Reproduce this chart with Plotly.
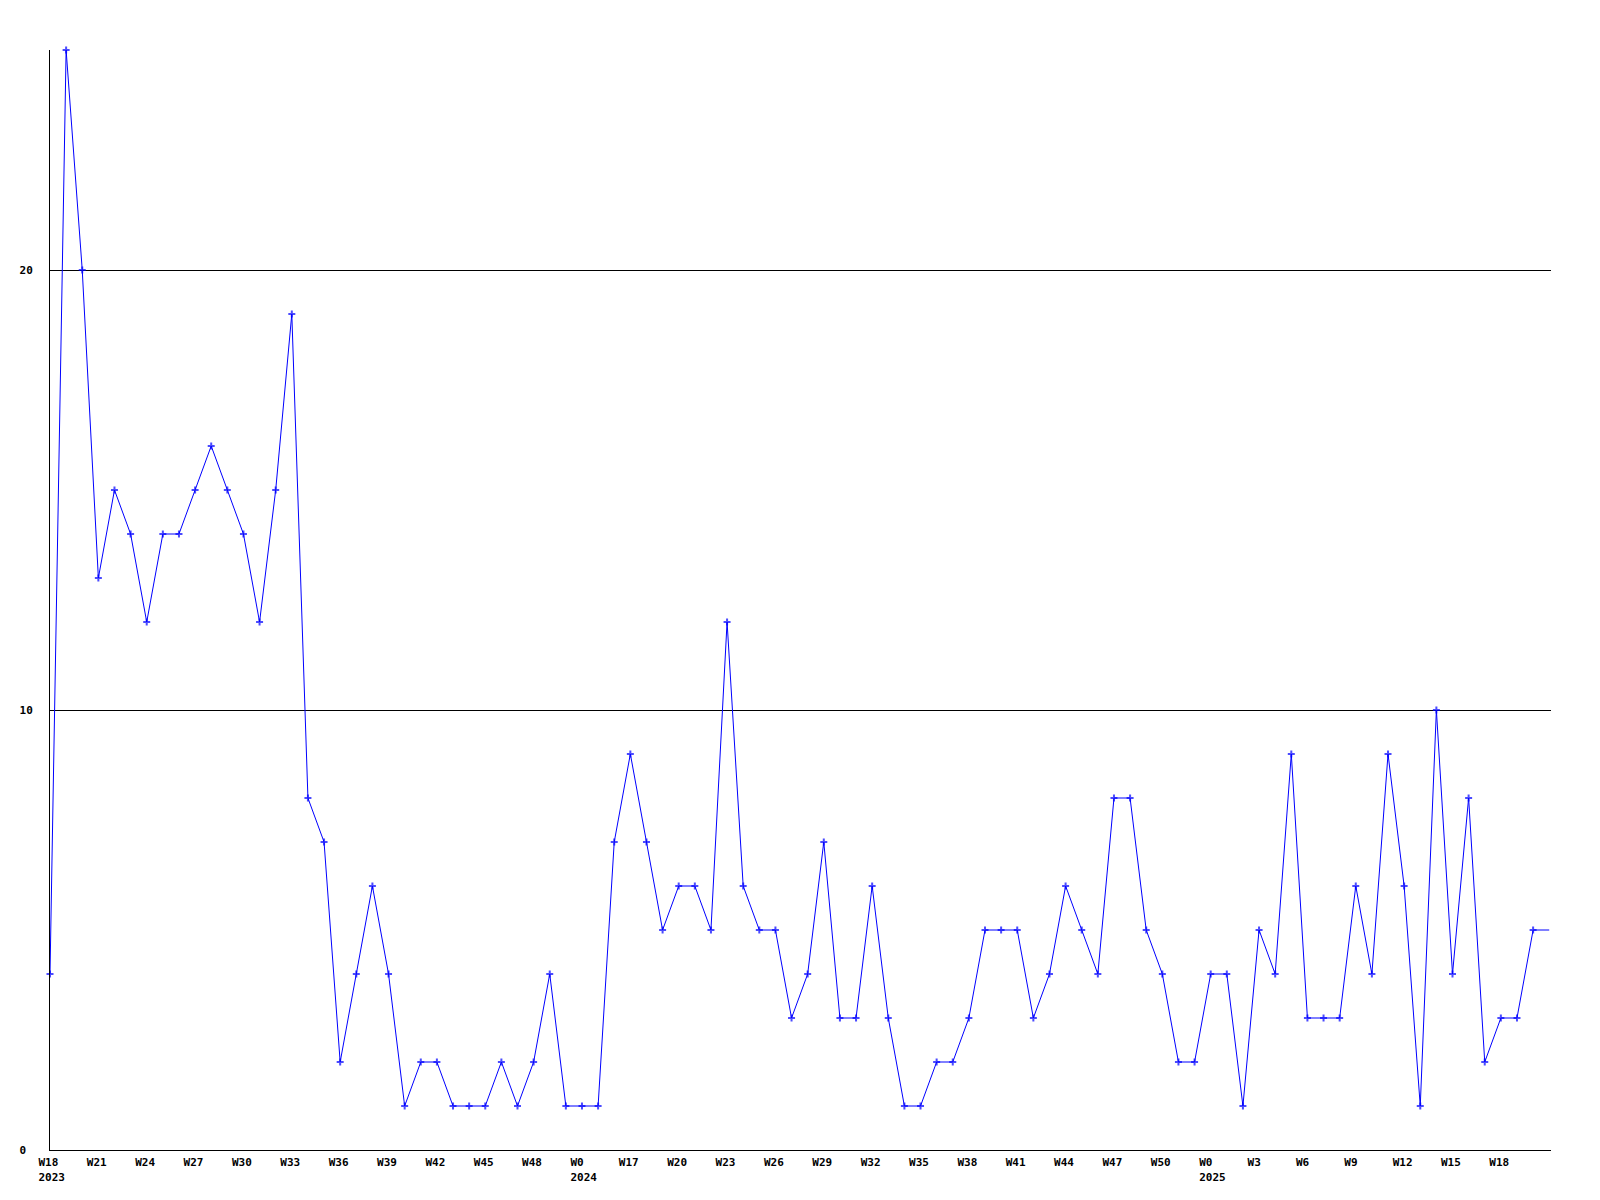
import plotly.graph_objects as go

# Weekly values, one per week, starting at W18 2023
values = [4, 25, 20, 13, 15, 14, 12, 14, 14, 15, 16, 15, 14, 12, 15, 19,
          8, 7, 2, 4, 6, 4, 1, 2, 2, 1, 1, 1, 2, 1, 2, 4, 1, 1, 1,
          7, 9, 7, 5, 6, 6, 5, 12, 6, 5, 5, 3, 4, 7, 3, 3, 6, 3, 1, 1,
          2, 2, 3, 5, 5, 5, 3, 4, 6, 5, 4, 8, 8, 5, 4, 2, 2, 4, 4, 1,
          5, 4, 9, 3, 3, 3, 6, 4, 9, 6, 1, 10, 4, 8, 2, 3, 3, 5, 5]

tick_labels = ["W18<br>2023", "W21", "W24", "W27", "W30", "W33", "W36", "W39",
               "W42", "W45", "W48", "W0<br>2024", "W17", "W20", "W23", "W26",
               "W29", "W32", "W35", "W38", "W41", "W44", "W47", "W50",
               "W0<br>2025", "W3", "W6", "W9", "W12", "W15", "W18"]
tick_step = 3

y_ticks = [0, 10, 20]
y_tick_text = ["0\u00a0", "10", "20"]

x = list(range(len(values)))
tick_vals = [i * tick_step for i in range(len(tick_labels))]
marker_sizes = [5] * (len(values) - 1) + [0]

fig = go.Figure()
fig.add_trace(go.Scatter(
    x=x, y=values, mode="lines+markers",
    line=dict(color="#0000FF", width=1),
    marker=dict(symbol="cross-thin", size=marker_sizes, color="#0000FF",
                line=dict(color="#0000FF", width=2)),
    cliponaxis=False, showlegend=False,
))

font = dict(family="DejaVu Sans Mono", size=11, color="black", weight="bold")

fig.update_layout(
    width=1600, height=1200,
    margin=dict(l=42, r=57, t=42, b=58, autoexpand=False),
    paper_bgcolor="white", plot_bgcolor="white",
    font=font,
    xaxis=dict(
        range=[0, 93.11], showline=True, linecolor="black", linewidth=1,
        showgrid=False, zeroline=False, ticks="",
        tickmode="array", tickvals=tick_vals, ticktext=tick_labels,
        ticklabelposition="outside right", ticklabelshift=-12,
        ticklabelstandoff=2, tickfont=font,
    ),
    yaxis=dict(
        range=[0, 25], showline=True, linecolor="black", linewidth=1,
        showgrid=True, gridcolor="black", gridwidth=1, zeroline=False,
        ticks="", tickmode="array", tickvals=y_ticks, ticktext=y_tick_text,
        tickfont=font, ticklabelstandoff=14,
    ),
)

fig.write_html("out.html")
